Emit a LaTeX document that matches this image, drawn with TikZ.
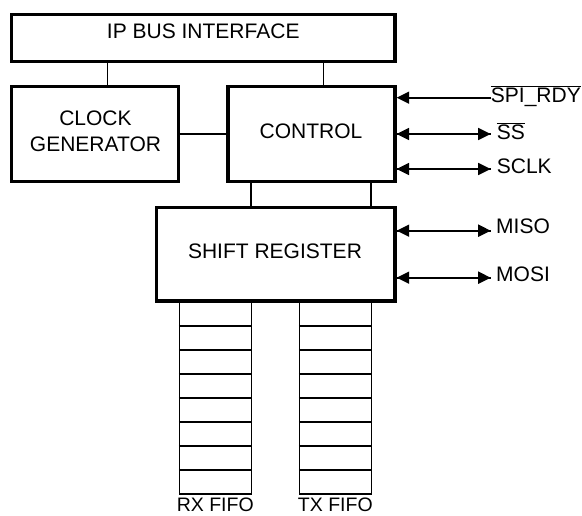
\documentclass[tikz,border=0pt]{standalone}
\usepackage{fontspec}
\setmainfont{Liberation Sans}
\usetikzlibrary{arrows.meta}
\newcommand\ovl[1]{\ensuremath{\overline{\mbox{#1}}}}
\begin{document}
\begin{tikzpicture}[x=1pt,y=-1pt,
  font=\fontsize{21}{25}\selectfont,
  box/.style={draw,line width=3.3pt,rectangle,inner sep=0pt,fill=white},
  fifo/.style={draw,line width=1.1pt,rectangle,inner sep=0pt},
  conn/.style={line width=1.1pt},
  sig/.style={line width=1.7pt},
  tip/.style={-{Triangle[length=12.5pt,width=12pt]}},
  lbl/.style={inner sep=0pt,anchor=base},
  fifolbl/.style={lbl,font=\fontsize{19.5}{23}\selectfont},
  pin/.style={inner sep=0pt,anchor=base west}]
\useasboundingbox (0,0) rectangle (582,516);
\fill[white] (0,0) rectangle (582,516);

% coordinates for connector positions
\coordinate (c1) at (107.3,0);
\coordinate (c2) at (323.3,0);
\coordinate (c3) at (0,134);
\coordinate (c4) at (251,0);
\coordinate (c5) at (371,0);

% FIFOs
\node[fifo,minimum width=72pt,minimum height=193pt] (rx) at (215.3,397.5) {};
\node[fifo,minimum width=72pt,minimum height=193pt] (tx) at (335.3,397.5) {};
\foreach \k in {0,...,6}{
  \draw[conn] (rx.west |- 0,{326+24*\k}) -- (rx.east |- 0,{326+24*\k});
  \draw[conn] (tx.west |- 0,{326+24*\k}) -- (tx.east |- 0,{326+24*\k});
}
\node[fifolbl] (rxl) at (215.3,511.5) {RX FIFO};
\node[fifolbl] (txl) at (335.3,511.5) {TX FIFO};

% boxes
\node[box,minimum width=383.5pt,minimum height=47pt] (ip) at (203.25,38) {};
\node[box,minimum width=167pt,minimum height=95pt] (clk) at (95,134) {};
\node[box,minimum width=167pt,minimum height=95pt] (ctrl) at (311.5,134) {};
\node[box,minimum width=238.5pt,minimum height=93.5pt] (shift) at (275.75,254.25) {};

\node[lbl] (ipl) at (203.25,38.3) {IP BUS INTERFACE};
\node[lbl] (clkl1) at (95.5,126) {CLOCK};
\node[lbl] (clkl2) at (95.5,151.7) {GENERATOR};
\node[lbl] (ctrll) at (311,138.3) {CONTROL};
\node[lbl] (shiftl) at (275,258.3) {SHIFT REGISTER};

% internal connectors
\draw[conn] (ip.south -| c1) -- (clk.north -| c1);
\draw[conn] (ip.south -| c2) -- (ctrl.north -| c2);
\draw[conn] (clk.east |- c3) -- (ctrl.west |- c3);
\draw[conn] (ctrl.south -| c4) -- (shift.north -| c4);
\draw[conn] (ctrl.south -| c5) -- (shift.north -| c5);

% external signals
\node[pin] (rdy) at (490.7,102.7) {\ovl{SPI\_RDY}};
\node[pin] (ss) at (496.7,139.3) {\ovl{SS}};
\node[pin] (sclk) at (496.7,173.3) {SCLK};
\node[pin] (miso) at (496,234) {MISO};
\node[pin] (mosi) at (496,281.7) {MOSI};

\coordinate (rdyE) at (490.7,97.7);
\coordinate (ssE) at (490.7,134);
\coordinate (sclkE) at (490.7,169);
\coordinate (misoE) at (490.7,230.7);
\coordinate (mosiE) at (490.7,277.7);

\draw[sig,tip] (rdyE) -- (ctrl.east |- rdyE);
\draw[sig,tip] (ssE) -- (ctrl.east |- ssE);
\draw[sig,tip] (ctrl.east |- ssE) -- (ssE);
\draw[sig,tip] (sclkE) -- (ctrl.east |- sclkE);
\draw[sig,tip] (ctrl.east |- sclkE) -- (sclkE);
\draw[sig,tip] (misoE) -- (shift.east |- misoE);
\draw[sig,tip] (shift.east |- misoE) -- (misoE);
\draw[sig,tip] (mosiE) -- (shift.east |- mosiE);
\draw[sig,tip] (shift.east |- mosiE) -- (mosiE);
\end{tikzpicture}
\end{document}
